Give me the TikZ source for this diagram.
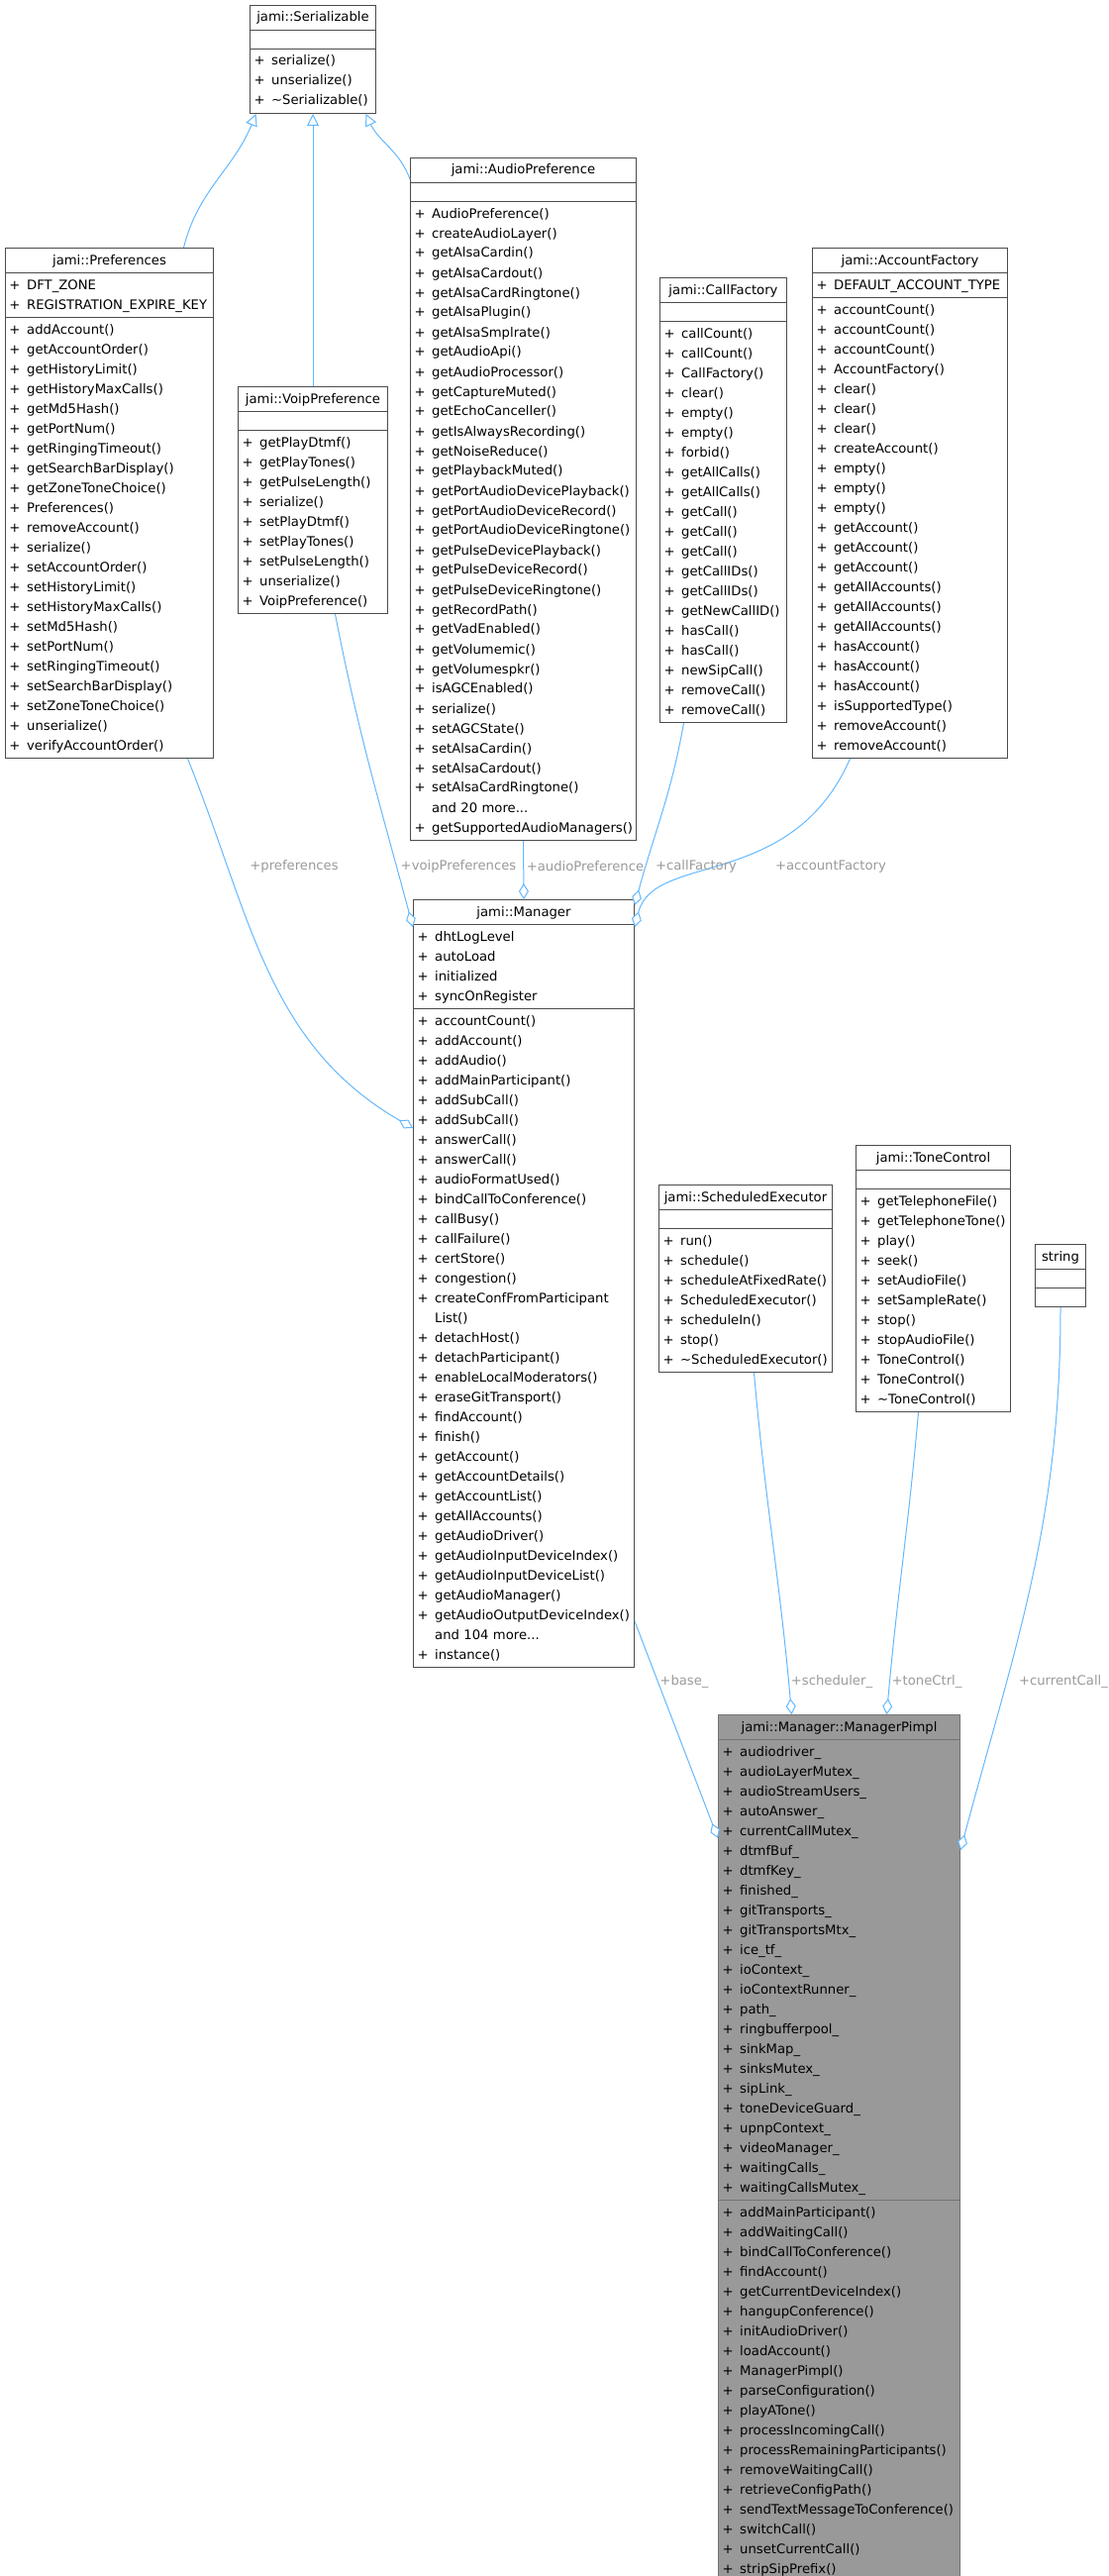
\documentclass[tikz,border=0pt]{standalone}
\usepackage{fontspec}
\setmainfont{DejaVu Sans}
\usetikzlibrary{shapes.multipart, arrows.meta}
\definecolor{edgeblue}{HTML}{63B8FF}
\definecolor{lblgray}{HTML}{9A9A9A}
\newcommand{\mbr}[1]{\strut+\enspace #1\par}
\newcommand{\mtx}[1]{\strut\phantom{+}\enspace #1\par}
\newcommand{\mempty}{\rule{0pt}{7pt}\par}
\tikzset{
x=0.5pt, y=-0.5pt,
classbox/.style={draw=black!70, fill=white, line width=0.5pt, rectangle split, rectangle split parts=3,
  anchor=north west, inner xsep=2pt, inner ysep=1pt, text width=#1*0.5pt-4pt,
  font=\fontsize{6.6}{10}\selectfont}, % width in pixels of the reference
pimplbox/.style={classbox=#1, draw=black!55, fill=black!40},
inh/.style={draw=edgeblue, line width=0.5pt, {Triangle[open, length=6pt, width=6pt, fill=white]}-},
agg/.style={draw=edgeblue, line width=0.5pt, {Diamond[open, length=8pt, width=5pt, fill=white]}-},
lbl/.style={text=lblgray, font=\fontsize{6.6}{10}\selectfont, inner sep=0pt},
}
\begin{document}
\begin{tikzpicture}
\useasboundingbox (0,0) rectangle (1119,2601);
% classes
\node[classbox=127] (ser) at (252,5) {\centering\strut jami::Serializable\par
  \nodepart{two}\mempty
  \nodepart{three}\mbr{serialize()}\mbr{unserialize()}\mbr{\textasciitilde Serializable()}};
\node[classbox=210] (pref) at (5,250) {\centering\strut jami::Preferences\par
  \nodepart{two}\mbr{DFT\_ZONE}\mbr{REGISTRATION\_EXPIRE\_KEY}
  \nodepart{three}\mbr{addAccount()}\mbr{getAccountOrder()}\mbr{getHistoryLimit()}\mbr{getHistoryMaxCalls()}
  \mbr{getMd5Hash()}\mbr{getPortNum()}\mbr{getRingingTimeout()}\mbr{getSearchBarDisplay()}
  \mbr{getZoneToneChoice()}\mbr{Preferences()}\mbr{removeAccount()}\mbr{serialize()}
  \mbr{setAccountOrder()}\mbr{setHistoryLimit()}\mbr{setHistoryMaxCalls()}\mbr{setMd5Hash()}
  \mbr{setPortNum()}\mbr{setRingingTimeout()}\mbr{setSearchBarDisplay()}\mbr{setZoneToneChoice()}
  \mbr{unserialize()}\mbr{verifyAccountOrder()}};
\node[classbox=151] (voip) at (240,390) {\centering\strut jami::VoipPreference\par
  \nodepart{two}\mempty
  \nodepart{three}\mbr{getPlayDtmf()}\mbr{getPlayTones()}\mbr{getPulseLength()}\mbr{serialize()}
  \mbr{setPlayDtmf()}\mbr{setPlayTones()}\mbr{setPulseLength()}\mbr{unserialize()}\mbr{VoipPreference()}};
\node[classbox=228] (audio) at (414,159) {\centering\strut jami::AudioPreference\par
  \nodepart{two}\mempty
  \nodepart{three}\mbr{AudioPreference()}\mbr{createAudioLayer()}\mbr{getAlsaCardin()}\mbr{getAlsaCardout()}
  \mbr{getAlsaCardRingtone()}\mbr{getAlsaPlugin()}\mbr{getAlsaSmplrate()}\mbr{getAudioApi()}
  \mbr{getAudioProcessor()}\mbr{getCaptureMuted()}\mbr{getEchoCanceller()}\mbr{getIsAlwaysRecording()}
  \mbr{getNoiseReduce()}\mbr{getPlaybackMuted()}\mbr{getPortAudioDevicePlayback()}\mbr{getPortAudioDeviceRecord()}
  \mbr{getPortAudioDeviceRingtone()}\mbr{getPulseDevicePlayback()}\mbr{getPulseDeviceRecord()}\mbr{getPulseDeviceRingtone()}
  \mbr{getRecordPath()}\mbr{getVadEnabled()}\mbr{getVolumemic()}\mbr{getVolumespkr()}
  \mbr{isAGCEnabled()}\mbr{serialize()}\mbr{setAGCState()}\mbr{setAlsaCardin()}
  \mbr{setAlsaCardout()}\mbr{setAlsaCardRingtone()}\mtx{and 20 more...}\mbr{getSupportedAudioManagers()}};
\node[classbox=128] (callf) at (666,280) {\centering\strut jami::CallFactory\par
  \nodepart{two}\mempty
  \nodepart{three}\mbr{callCount()}\mbr{callCount()}\mbr{CallFactory()}\mbr{clear()}\mbr{empty()}\mbr{empty()}
  \mbr{forbid()}\mbr{getAllCalls()}\mbr{getAllCalls()}\mbr{getCall()}\mbr{getCall()}\mbr{getCall()}
  \mbr{getCallIDs()}\mbr{getCallIDs()}\mbr{getNewCallID()}\mbr{hasCall()}\mbr{hasCall()}\mbr{newSipCall()}
  \mbr{removeCall()}\mbr{removeCall()}};
\node[classbox=197] (accf) at (820,250) {\centering\strut jami::AccountFactory\par
  \nodepart{two}\mbr{DEFAULT\_ACCOUNT\_TYPE}
  \nodepart{three}\mbr{accountCount()}\mbr{accountCount()}\mbr{accountCount()}\mbr{AccountFactory()}
  \mbr{clear()}\mbr{clear()}\mbr{clear()}\mbr{createAccount()}\mbr{empty()}\mbr{empty()}\mbr{empty()}
  \mbr{getAccount()}\mbr{getAccount()}\mbr{getAccount()}\mbr{getAllAccounts()}\mbr{getAllAccounts()}
  \mbr{getAllAccounts()}\mbr{hasAccount()}\mbr{hasAccount()}\mbr{hasAccount()}\mbr{isSupportedType()}
  \mbr{removeAccount()}\mbr{removeAccount()}};
\node[classbox=223] (mgr) at (417,908) {\centering\strut jami::Manager\par
  \nodepart{two}\mbr{dhtLogLevel}\mbr{autoLoad}\mbr{initialized}\mbr{syncOnRegister}
  \nodepart{three}\mbr{accountCount()}\mbr{addAccount()}\mbr{addAudio()}\mbr{addMainParticipant()}
  \mbr{addSubCall()}\mbr{addSubCall()}\mbr{answerCall()}\mbr{answerCall()}\mbr{audioFormatUsed()}
  \mbr{bindCallToConference()}\mbr{callBusy()}\mbr{callFailure()}\mbr{certStore()}\mbr{congestion()}
  \strut+\enspace createConfFromParticipant\\\strut\phantom{+}\enspace List()\par
  \mbr{detachHost()}\mbr{detachParticipant()}\mbr{enableLocalModerators()}\mbr{eraseGitTransport()}
  \mbr{findAccount()}\mbr{finish()}\mbr{getAccount()}\mbr{getAccountDetails()}\mbr{getAccountList()}
  \mbr{getAllAccounts()}\mbr{getAudioDriver()}\mbr{getAudioInputDeviceIndex()}\mbr{getAudioInputDeviceList()}
  \mbr{getAudioManager()}\mbr{getAudioOutputDeviceIndex()}\mtx{and 104 more...}\mbr{instance()}};
\node[classbox=175] (sched) at (665,1196) {\centering\strut jami::ScheduledExecutor\par
  \nodepart{two}\mempty
  \nodepart{three}\mbr{run()}\mbr{schedule()}\mbr{scheduleAtFixedRate()}\mbr{ScheduledExecutor()}
  \mbr{scheduleIn()}\mbr{stop()}\mbr{\textasciitilde ScheduledExecutor()}};
\node[classbox=156] (tone) at (864,1156) {\centering\strut jami::ToneControl\par
  \nodepart{two}\mempty
  \nodepart{three}\mbr{getTelephoneFile()}\mbr{getTelephoneTone()}\mbr{play()}\mbr{seek()}
  \mbr{setAudioFile()}\mbr{setSampleRate()}\mbr{stop()}\mbr{stopAudioFile()}\mbr{ToneControl()}
  \mbr{ToneControl()}\mbr{\textasciitilde ToneControl()}};
\node[classbox=51] (str) at (1045,1256) {\centering\strut string\par
  \nodepart{two}\mempty
  \nodepart{three}\mempty};
\node[pimplbox=244] (pimpl) at (725,1731) {\centering\strut jami::Manager::ManagerPimpl\par
  \nodepart{two}\mbr{audiodriver\_}\mbr{audioLayerMutex\_}\mbr{audioStreamUsers\_}\mbr{autoAnswer\_}
  \mbr{currentCallMutex\_}\mbr{dtmfBuf\_}\mbr{dtmfKey\_}\mbr{finished\_}\mbr{gitTransports\_}
  \mbr{gitTransportsMtx\_}\mbr{ice\_tf\_}\mbr{ioContext\_}\mbr{ioContextRunner\_}\mbr{path\_}
  \mbr{ringbufferpool\_}\mbr{sinkMap\_}\mbr{sinksMutex\_}\mbr{sipLink\_}\mbr{toneDeviceGuard\_}
  \mbr{upnpContext\_}\mbr{videoManager\_}\mbr{waitingCalls\_}\mbr{waitingCallsMutex\_}
  \nodepart{three}\mbr{addMainParticipant()}\mbr{addWaitingCall()}\mbr{bindCallToConference()}
  \mbr{findAccount()}\mbr{getCurrentDeviceIndex()}\mbr{hangupConference()}\mbr{initAudioDriver()}
  \mbr{loadAccount()}\mbr{ManagerPimpl()}\mbr{parseConfiguration()}\mbr{playATone()}
  \mbr{processIncomingCall()}\mbr{processRemainingParticipants()}\mbr{removeWaitingCall()}
  \mbr{retrieveConfigPath()}\mbr{sendTextMessageToConference()}\mbr{switchCall()}
  \mbr{unsetCurrentCall()}\mbr{stripSipPrefix()}};
% inheritance
\draw[inh] ([xshift=-28.75pt]ser.south) to[out=-112, in=76] ([xshift=37.5pt]pref.north);
\draw[inh] (ser.south) -- (voip.north);
\draw[inh] ([xshift=26.75pt]ser.south) to[out=-65, in=110] ([yshift=-11pt]audio.north west);
% aggregation
\draw[agg] ([yshift=-115.5pt]mgr.north west) to[out=150, in=-68] ([xshift=39.5pt]pref.south);
\draw[agg] ([yshift=-14pt]mgr.north west) to[out=105, in=-79] ([xshift=11.25pt]voip.south);
\draw[agg] (mgr.north) -- (audio.south);
\draw[agg] ([yshift=-3pt]mgr.north east) to[out=75, in=-100] ([xshift=-20pt]callf.south);
\draw[agg] ([yshift=-14pt]mgr.north east) .. controls (660,860) and (800,900) .. ([xshift=-30.25pt]accf.south);
\draw[agg] ([yshift=-62.5pt]pimpl.north west) -- ([yshift=-364.5pt]mgr.north east);
\draw[agg] ([xshift=-24pt]pimpl.north) to[out=95, in=-85] ([xshift=4.25pt]sched.south);
\draw[agg] ([xshift=24pt]pimpl.north) to[out=85, in=-95] ([xshift=-7.5pt]tone.south);
\draw[agg] ([yshift=-68.5pt]pimpl.north east) to[out=75, in=-90] (str.south);
% labels
\node[lbl] (lpref) at (297,875) {+preferences};
\node[lbl] (lvoip) at (463,875) {+voipPreferences};
\node[lbl] (laudio) at (591,875) {+audioPreference};
\node[lbl] (lcallf) at (703,875) {+callFactory};
\node[lbl] (laccf) at (839,875) {+accountFactory};
\node[lbl] (lbase) at (691,1698) {+base\_};
\node[lbl] (lsched) at (840,1698) {+scheduler\_};
\node[lbl] (ltone) at (936,1698) {+toneCtrl\_};
\node[lbl] (lstr) at (1074,1698) {+currentCall\_};
\end{tikzpicture}
\end{document}
